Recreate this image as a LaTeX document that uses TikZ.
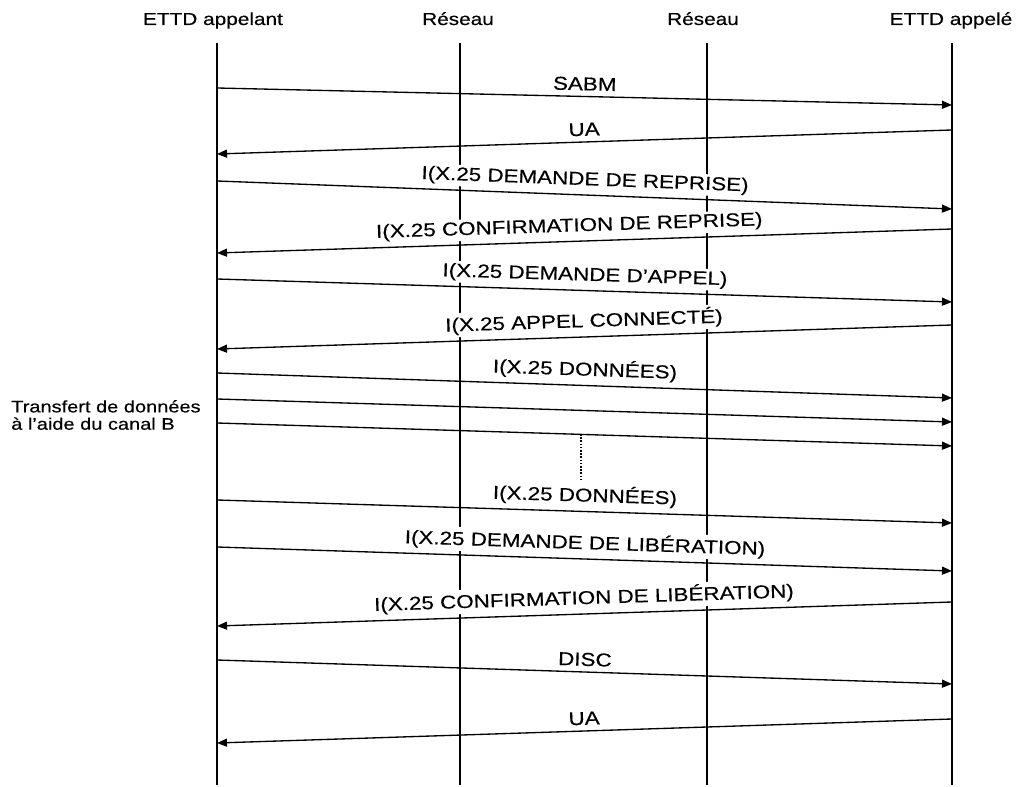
\documentclass[tikz,border=0pt]{standalone}
\usepackage{fontspec}
\setmainfont{Liberation Sans}[FakeStretch=1.2,FakeBold=0.3]
\usetikzlibrary{arrows.meta}

\tikzset{
  lifeline/.style={line width=1.1pt},
  msg/.style={line width=1pt,-{Triangle[length=7.5pt,width=6pt]}},
  msglabel/.style={midway,sloped,above=2.5pt,fill=white,inner sep=1.5pt,
                   font=\fontsize{14}{16}\selectfont},
  head/.style={anchor=base,font=\fontsize{13}{15}\selectfont},
  gap/.style={line width=1pt,dash pattern=on 1.2pt off 1.2pt}
}

\begin{document}
\begin{tikzpicture}[x=0.75pt,y=-0.75pt]
  \useasboundingbox (0,0) rectangle (1017,787);

  \node[head] (appelant) at (213,25) {ETTD appelant};
  \node[head] (reseauA) at (458,25) {Réseau};
  \node[head] (reseauB) at (703,25) {Réseau};
  \node[head] (appele) at (951,25) {ETTD appelé};

  \coordinate (appelant top) at (217,43);
  \coordinate (appelant bot) at (217,785);
  \coordinate (reseauA top) at (460,43);
  \coordinate (reseauA bot) at (460,785);
  \coordinate (reseauB top) at (707,43);
  \coordinate (reseauB bot) at (707,785);
  \coordinate (appele top) at (952,43);
  \coordinate (appele bot) at (952,785);
  \draw[lifeline] (appelant top) -- (appelant bot);
  \draw[lifeline] (reseauA top) -- (reseauA bot);
  \draw[lifeline] (reseauB top) -- (reseauB bot);
  \draw[lifeline] (appele top) -- (appele bot);

  \node[anchor=west,align=left,inner sep=0pt,font=\fontsize{12.5}{13}\selectfont]
       (transfert) at (11,415) {Transfert de données\\à l’aide du canal B};

  \coordinate (m1a) at (217,88);   \coordinate (m1b) at (952,105);
  \coordinate (m2a) at (952,130);  \coordinate (m2b) at (217,154);
  \coordinate (m3a) at (217,181);  \coordinate (m3b) at (952,209);
  \coordinate (m4a) at (952,229);  \coordinate (m4b) at (217,253);
  \coordinate (m5a) at (217,279);  \coordinate (m5b) at (952,302);
  \coordinate (m6a) at (952,325);  \coordinate (m6b) at (217,349);
  \coordinate (m7a) at (217,373);  \coordinate (m7b) at (952,398);
  \coordinate (m8a) at (217,399);  \coordinate (m8b) at (952,422);
  \coordinate (m9a) at (217,423);  \coordinate (m9b) at (952,446);
  \coordinate (m10a) at (217,500); \coordinate (m10b) at (952,523);
  \coordinate (m11a) at (217,547); \coordinate (m11b) at (952,571);
  \coordinate (m12a) at (952,602); \coordinate (m12b) at (217,626);
  \coordinate (m13a) at (217,660); \coordinate (m13b) at (952,684);
  \coordinate (m14a) at (952,719); \coordinate (m14b) at (217,743);

  \draw[msg] (m1a) -- node[msglabel] (sabm) {SABM} (m1b);
  \draw[msg] (m2a) -- node[msglabel] (ua1) {UA} (m2b);
  \draw[msg] (m3a) -- node[msglabel] (dreprise) {I(X.25 DEMANDE DE REPRISE)} (m3b);
  \draw[msg] (m4a) -- node[msglabel,pos=0.52] (creprise) {I(X.25 CONFIRMATION DE REPRISE)} (m4b);
  \draw[msg] (m5a) -- node[msglabel] (dappel) {I(X.25 DEMANDE D’APPEL)} (m5b);
  \draw[msg] (m6a) -- node[msglabel] (connecte) {I(X.25 APPEL CONNECTÉ)} (m6b);
  \draw[msg] (m7a) -- node[msglabel] (donnees1) {I(X.25 DONNÉES)} (m7b);
  \draw[msg] (m8a) -- (m8b);
  \draw[msg] (m9a) -- (m9b);
  \draw[msg] (m10a) -- node[msglabel] (donnees2) {I(X.25 DONNÉES)} (m10b);
  \draw[msg] (m11a) -- node[msglabel] (dliberation) {I(X.25 DEMANDE DE LIBÉRATION)} (m11b);
  \draw[msg] (m12a) -- node[msglabel] (cliberation) {I(X.25 CONFIRMATION DE LIBÉRATION)} (m12b);
  \draw[msg] (m13a) -- node[msglabel] (disc) {DISC} (m13b);
  \draw[msg] (m14a) -- node[msglabel] (ua2) {UA} (m14b);

  \coordinate (gap top) at (581,434);
  \coordinate (gap bot) at (581,481);
  \draw[gap] (gap top) -- (gap bot);
\end{tikzpicture}
\end{document}
